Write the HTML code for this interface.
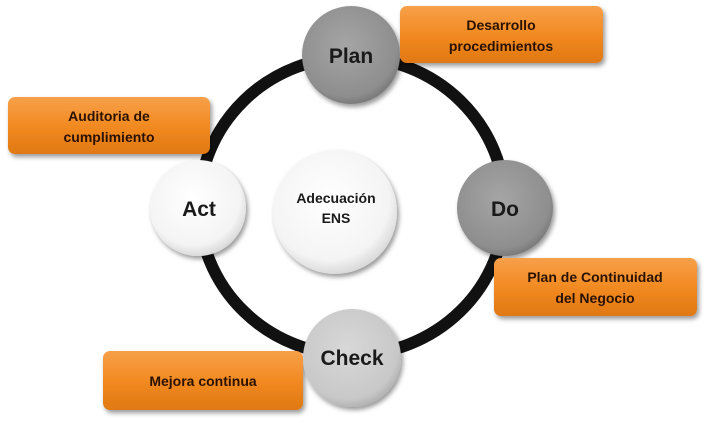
<!DOCTYPE html>
<html><head><meta charset="utf-8"><style>
body{margin:0;background:#fff;width:703px;height:422px;overflow:hidden}
svg{display:block}
text{font-family:"Liberation Sans",sans-serif;font-weight:bold}
</style></head><body>
<svg width="703" height="422" viewBox="0 0 703 422">
<defs>
<radialGradient id="gw" cx="0.45" cy="0.4" r="0.65"><stop offset="0" stop-color="#fff"/><stop offset="0.75" stop-color="#f4f4f4"/><stop offset="1" stop-color="#cfcfcf"/></radialGradient>
<radialGradient id="gd" cx="0.45" cy="0.4" r="0.65"><stop offset="0" stop-color="#a5a5a5"/><stop offset="0.8" stop-color="#8e8e8e"/><stop offset="1" stop-color="#707070"/></radialGradient>
<radialGradient id="gl" cx="0.45" cy="0.4" r="0.65"><stop offset="0" stop-color="#d8d8d8"/><stop offset="0.8" stop-color="#c8c8c8"/><stop offset="1" stop-color="#a8a8a8"/></radialGradient>
<linearGradient id="go" x1="0" y1="0" x2="0" y2="1"><stop offset="0" stop-color="#f7a04a"/><stop offset="0.5" stop-color="#f28a22"/><stop offset="1" stop-color="#e07812"/></linearGradient>
<filter id="sh" x="-20%" y="-20%" width="150%" height="150%"><feDropShadow dx="2" dy="3" stdDeviation="2.5" flood-color="#000" flood-opacity="0.4"/></filter>
</defs>
<ellipse cx="352" cy="206" rx="153" ry="149" fill="none" stroke="#111" stroke-width="12"/>
<g filter="url(#sh)">
<rect x="400" y="6" width="203" height="57" rx="7" fill="url(#go)"/>
<rect x="8" y="97" width="202" height="57" rx="7" fill="url(#go)"/>
<rect x="494" y="258" width="203" height="58" rx="7" fill="url(#go)"/>
<rect x="103" y="351" width="200" height="59" rx="7" fill="url(#go)"/>
<circle cx="335" cy="212" r="62" fill="url(#gw)"/>
<circle cx="351" cy="55" r="49" fill="url(#gd)"/>
<circle cx="505" cy="208" r="48" fill="url(#gd)"/>
<circle cx="198" cy="208" r="48" fill="url(#gw)"/>
<circle cx="352" cy="358" r="49" fill="url(#gl)"/>
</g>
<g fill="#1a1a1a" text-anchor="middle">
<text x="351" y="63" font-size="21">Plan</text>
<text x="505" y="216" font-size="21">Do</text>
<text x="199" y="216" font-size="21">Act</text>
<text x="352" y="365" font-size="21">Check</text>
<text x="336" y="203" font-size="14">Adecuación</text>
<text x="336" y="223" font-size="14">ENS</text>
</g>
<g fill="#2a1200" text-anchor="middle" font-size="14">
<text x="501" y="30">Desarrollo</text>
<text x="501" y="51">procedimientos</text>
<text x="109" y="121">Auditoria de</text>
<text x="109" y="142">cumplimiento</text>
<text x="595" y="282">Plan de Continuidad</text>
<text x="595" y="303">del Negocio</text>
<text x="203" y="386">Mejora continua</text>
</g>
</svg>
</body></html>
